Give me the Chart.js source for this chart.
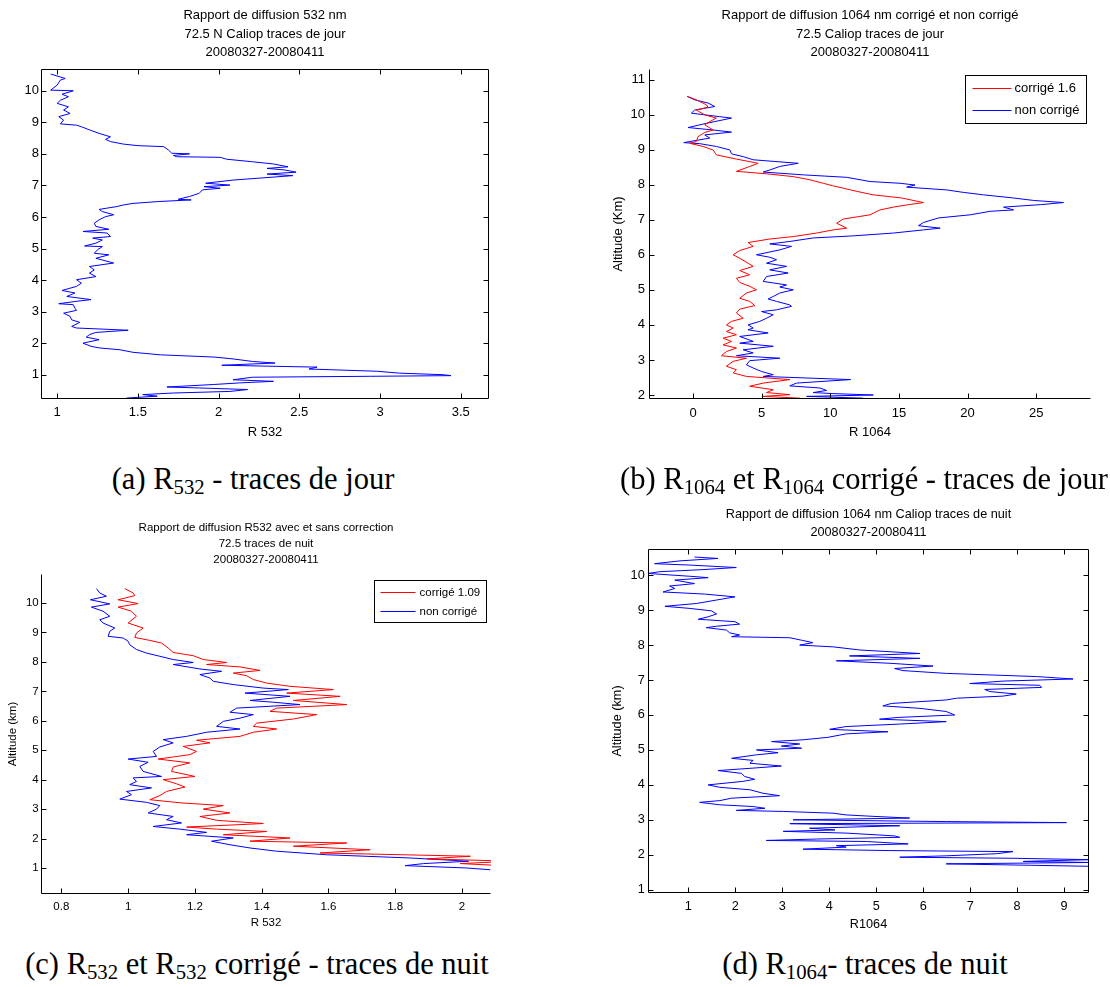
<!DOCTYPE html>
<html lang="fr">
<head>
<meta charset="utf-8">
<title>Rapport de diffusion CALIOP 72.5 N</title>
<script src="https://cdn.jsdelivr.net/npm/chart.js@4.4.1/dist/chart.umd.min.js"></script>
<style>
	body { margin: 0; background: #fff; }
	#page { position: relative; width: 1110px; height: 987px; overflow: hidden; }
	#page canvas { position: absolute; }
	.sous-titre { position: absolute; font-family: "Liberation Serif", "DejaVu Serif", serif; font-size: 30.5px; line-height: 32px; white-space: nowrap; color: #000; transform: translateX(-50%); }
	.sous-titre sub { font-size: 0.68em; line-height: 0; vertical-align: -0.22em; }
</style>
</head>
<body>
<div id="page">
	<canvas id="graphique-a" width="500" height="445" style="left:0;top:0"></canvas>
	<canvas id="graphique-b" width="500" height="445" style="left:600px;top:0"></canvas>
	<canvas id="graphique-c" width="500" height="440" style="left:0;top:505px"></canvas>
	<canvas id="graphique-d" width="500" height="455" style="left:600px;top:490px"></canvas>
	<div class="sous-titre" style="left:253px;top:463px">(a) R<sub>532</sub> - traces de jour</div>
	<div class="sous-titre" style="left:864px;top:463px">(b) R<sub>1064</sub> et R<sub>1064</sub> corrigé - traces de jour</div>
	<div class="sous-titre" style="left:257px;top:948px">(c) R<sub>532</sub> et R<sub>532</sub> corrigé - traces de nuit</div>
	<div class="sous-titre" style="left:865px;top:948px">(d) R<sub>1064</sub>- traces de nuit</div>
</div>
<script>
// (a) R532 de jour
const altJour532 = [
	10.53, 10.39, 10.34, 10.18, 10.02, 10.00, 9.89, 9.81, 9.70, 9.60,
	9.49, 9.39, 9.28, 9.18, 9.07, 8.95, 8.91, 8.86, 8.76, 8.65,
	8.54, 8.46, 8.39, 8.31, 8.26, 8.23, 8.12, 8.02, 8.00, 7.95,
	7.91, 7.89, 7.83, 7.75, 7.68, 7.59, 7.54, 7.49, 7.42, 7.36,
	7.31, 7.23, 7.17, 7.07, 7.01, 6.96, 6.91, 6.86, 6.75, 6.65,
	6.56, 6.54, 6.49, 6.43, 6.38, 6.33, 6.24, 6.17, 6.07, 6.01,
	5.91, 5.80, 5.70, 5.61, 5.54, 5.49, 5.38, 5.33, 5.27, 5.17,
	5.08, 5.06, 4.96, 4.85, 4.80, 4.69, 4.54, 4.43, 4.32, 4.22,
	4.11, 4.01, 3.90, 3.80, 3.67, 3.59, 3.48, 3.38, 3.32, 3.25,
	3.22, 3.11, 3.04, 2.95, 2.85, 2.74, 2.66, 2.53, 2.48, 2.41,
	2.34, 2.27, 2.19, 2.11, 2.00, 1.90, 1.85, 1.79, 1.71, 1.63,
	1.56, 1.50, 1.42, 1.37, 1.30, 1.24, 1.18, 1.11, 1.05, 1.00,
	0.97, 0.95, 0.92, 0.84, 0.79, 0.74, 0.69, 0.61, 0.58, 0.53,
	0.47, 0.42, 0.37, 0.32, 0.26
];
const r532Jour = [
	0.96, 1.05, 1.02, 1.00, 0.96, 1.10, 1.03, 1.07, 1.02, 1.00,
	1.07, 1.04, 1.08, 1.01, 1.04, 1.02, 1.12, 1.15, 1.20, 1.26,
	1.33, 1.30, 1.33, 1.41, 1.50, 1.66, 1.69, 1.71, 1.82, 1.72,
	1.74, 2.01, 2.05, 2.21, 2.34, 2.43, 2.30, 2.41, 2.48, 2.30,
	2.46, 2.25, 2.09, 1.92, 2.07, 1.91, 2.01, 1.90, 1.88, 1.82,
	1.75, 1.83, 1.63, 1.47, 1.41, 1.37, 1.26, 1.28, 1.35, 1.30,
	1.26, 1.23, 1.24, 1.32, 1.16, 1.31, 1.33, 1.22, 1.28, 1.24,
	1.17, 1.28, 1.25, 1.23, 1.32, 1.24, 1.35, 1.20, 1.23, 1.20,
	1.24, 1.12, 1.15, 1.12, 1.03, 1.11, 1.06, 1.21, 1.11, 1.01,
	1.10, 1.11, 1.12, 1.04, 1.08, 1.09, 1.14, 1.09, 1.12, 1.44,
	1.24, 1.20, 1.18, 1.26, 1.16, 1.21, 1.26, 1.39, 1.47, 1.64,
	1.97, 2.09, 2.21, 2.35, 2.02, 2.61, 2.56, 2.98, 3.12, 3.39,
	3.44, 2.94, 2.21, 2.09, 2.34, 2.13, 1.97, 1.68, 1.88, 2.18,
	2.07, 1.72, 1.53, 1.62, 1.43
];

// (b) R1064 de jour, non corrigé et corrigé
const altJour1064 = [
	10.52, 10.42, 10.33, 10.23, 10.13, 10.04, 9.94, 9.90, 9.85, 9.75,
	9.63, 9.56, 9.50, 9.42, 9.33, 9.20, 9.17, 9.09, 8.99, 8.88,
	8.80, 8.71, 8.61, 8.52, 8.42, 8.36, 8.28, 8.21, 8.09, 8.04,
	7.99, 7.93, 7.85, 7.78, 7.71, 7.62, 7.55, 7.49, 7.43, 7.36,
	7.28, 7.24, 7.14, 7.05, 6.92, 6.83, 6.76, 6.71, 6.62, 6.54,
	6.48, 6.38, 6.31, 6.24, 6.14, 6.00, 5.93, 5.86, 5.76, 5.67,
	5.57, 5.48, 5.38, 5.24, 5.14, 5.08, 5.00, 4.91, 4.81, 4.74,
	4.67, 4.57, 4.53, 4.43, 4.38, 4.29, 4.19, 4.10, 4.00, 3.91,
	3.86, 3.77, 3.67, 3.53, 3.48, 3.39, 3.29, 3.20, 3.12, 3.05,
	2.98, 2.86, 2.77, 2.67, 2.58, 2.53, 2.44, 2.34, 2.26, 2.20,
	2.13, 2.07, 2.04, 2.00, 1.96, 1.91
];
const r1064Jour = [
	-0.44, 0.12, 1.09, 1.58, 0.12, -0.12, 1.95, 2.80, 2.19, 0.97,
	-0.36, 1.46, 2.80, 0.85, 1.22, -0.68, 0.49, 1.70, 2.68, 2.80,
	3.65, 4.38, 7.66, 6.32, 5.59, 5.11, 8.03, 11.19, 12.89, 15.08,
	16.17, 15.56, 18.48, 19.70, 21.16, 23.35, 24.81, 26.99, 25.29, 22.62,
	23.35, 21.64, 20.19, 17.87, 16.78, 16.42, 18.00, 16.78, 14.59, 11.67,
	8.75, 7.05, 5.59, 7.17, 6.32, 4.62, 5.59, 6.08, 5.35, 6.81,
	5.59, 6.93, 5.35, 5.11, 6.81, 6.32, 7.30, 6.32, 5.84, 5.47,
	6.08, 7.05, 7.17, 6.08, 4.99, 5.84, 5.35, 4.86, 4.01, 4.38,
	4.01, 5.47, 3.40, 4.38, 3.40, 5.84, 3.65, 4.38, 3.16, 6.32,
	4.13, 3.89, 4.38, 4.99, 5.84, 5.11, 11.48, 7.54, 7.05, 9.24,
	9.73, 8.75, 10.21, 13.13, 8.27, 12.40
];
const altJour1064Corr = [
	10.52, 10.42, 10.28, 10.21, 10.13, 9.99, 9.90, 9.80, 9.71, 9.56,
	9.49, 9.37, 9.23, 9.18, 9.09, 8.99, 8.85, 8.73, 8.61, 8.52,
	8.38, 8.31, 8.23, 8.14, 8.04, 7.97, 7.90, 7.81, 7.71, 7.62,
	7.49, 7.43, 7.36, 7.28, 7.14, 7.02, 6.90, 6.76, 6.71, 6.62,
	6.52, 6.45, 6.35, 6.24, 6.12, 6.00, 5.90, 5.76, 5.67, 5.55,
	5.43, 5.33, 5.21, 5.10, 5.00, 4.91, 4.76, 4.67, 4.55, 4.45,
	4.34, 4.19, 4.10, 4.00, 3.91, 3.81, 3.72, 3.62, 3.53, 3.43,
	3.34, 3.24, 3.12, 3.05, 2.96, 2.82, 2.72, 2.63, 2.53, 2.44,
	2.34, 2.25, 2.15, 2.07, 2.01, 1.96, 1.91
];
const r1064JourCorr = [
	-0.44, 0.24, 0.97, 1.09, 0.24, 0.85, 1.70, 1.22, 0.85, 1.46,
	0.85, 0.36, 0.24, -0.24, 0.73, 1.46, 1.70, 3.16, 4.74, 4.13,
	3.16, 5.35, 7.30, 8.51, 9.48, 10.17, 10.94, 11.92, 13.13, 15.20,
	16.78, 15.69, 14.59, 13.62, 12.89, 10.94, 10.46, 11.19, 10.21, 9.00,
	7.30, 5.59, 4.01, 4.38, 3.40, 2.92, 3.40, 4.01, 4.38, 3.40,
	4.13, 3.16, 3.40, 4.13, 4.62, 3.89, 3.40, 4.13, 4.50, 3.40,
	3.16, 3.65, 2.80, 2.43, 2.92, 2.43, 3.16, 2.19, 2.80, 2.19,
	3.16, 2.43, 2.07, 3.89, 2.92, 2.43, 3.16, 2.92, 3.89, 7.05,
	5.11, 4.13, 5.84, 5.35, 7.05, 5.11, 7.78
];

// (c) R532 de nuit, non corrigé et corrigé
const altNuit532 = [
	10.49, 10.34, 10.23, 10.11, 9.97, 9.86, 9.72, 9.55, 9.43, 9.32,
	9.15, 9.04, 8.87, 8.81, 8.70, 8.58, 8.42, 8.30, 8.19, 8.08,
	7.98, 7.91, 7.76, 7.68, 7.57, 7.45, 7.34, 7.23, 7.11, 7.06,
	6.94, 6.83, 6.69, 6.63, 6.55, 6.43, 6.29, 6.21, 6.09, 5.98,
	5.81, 5.72, 5.61, 5.47, 5.36, 5.25, 5.11, 4.96, 4.79, 4.70,
	4.59, 4.45, 4.28, 4.11, 4.06, 3.94, 3.83, 3.72, 3.60, 3.49,
	3.34, 3.23, 3.12, 3.00, 2.87, 2.75, 2.64, 2.53, 2.41, 2.32,
	2.21, 2.13, 2.02, 1.91, 1.79, 1.68, 1.57, 1.45, 1.34, 1.23,
	1.15, 1.08, 1.00, 0.94
];
const r532Nuit = [
	0.905, 0.915, 0.935, 0.887, 0.945, 0.890, 0.925, 0.945, 0.915, 0.925,
	0.960, 0.945, 0.940, 0.985, 1.000, 1.005, 1.025, 1.055, 1.095, 1.135,
	1.195, 1.135, 1.215, 1.280, 1.215, 1.245, 1.255, 1.315, 1.405, 1.480,
	1.350, 1.485, 1.365, 1.435, 1.515, 1.325, 1.305, 1.375, 1.335, 1.285,
	1.265, 1.335, 1.235, 1.175, 1.105, 1.135, 1.095, 1.075, 1.085, 1.000,
	1.060, 1.035, 1.045, 1.100, 1.015, 1.025, 1.005, 1.070, 0.995, 1.010,
	0.975, 1.055, 1.095, 1.085, 1.060, 1.135, 1.115, 1.160, 1.075, 1.155,
	1.235, 1.175, 1.315, 1.250, 1.305, 1.365, 1.445, 1.595, 1.845, 2.020,
	1.885, 1.830, 2.015, 2.085
];
const altNuit532Corr = [
	10.49, 10.34, 10.25, 10.11, 9.98, 9.86, 9.72, 9.55, 9.32, 9.15,
	8.98, 8.83, 8.73, 8.64, 8.47, 8.32, 8.21, 8.08, 7.98, 7.91,
	7.83, 7.71, 7.62, 7.53, 7.40, 7.28, 7.17, 7.06, 6.94, 6.83,
	6.69, 6.55, 6.43, 6.32, 6.21, 6.06, 5.92, 5.81, 5.72, 5.61,
	5.47, 5.34, 5.25, 5.13, 4.96, 4.85, 4.70, 4.57, 4.43, 4.28,
	4.11, 4.00, 3.86, 3.75, 3.60, 3.46, 3.32, 3.21, 3.12, 3.00,
	2.87, 2.75, 2.62, 2.51, 2.39, 2.32, 2.24, 2.13, 2.02, 1.91,
	1.85, 1.74, 1.62, 1.51, 1.40, 1.31, 1.23, 1.15, 1.08
];
const r532NuitCorr = [
	0.990, 1.015, 1.020, 0.970, 1.030, 0.970, 1.010, 1.025, 1.000, 1.045,
	1.025, 1.020, 1.065, 1.100, 1.120, 1.135, 1.195, 1.225, 1.295, 1.235,
	1.335, 1.395, 1.315, 1.355, 1.375, 1.415, 1.485, 1.615, 1.475, 1.635,
	1.495, 1.655, 1.445, 1.425, 1.565, 1.495, 1.385, 1.375, 1.445, 1.375,
	1.335, 1.205, 1.245, 1.165, 1.205, 1.185, 1.090, 1.185, 1.135, 1.130,
	1.200, 1.105, 1.145, 1.170, 1.115, 1.095, 1.065, 1.160, 1.285, 1.225,
	1.305, 1.215, 1.265, 1.405, 1.175, 1.265, 1.415, 1.285, 1.485, 1.365,
	1.655, 1.495, 1.725, 1.575, 2.025, 1.895, 2.150, 1.995, 2.120
];

// (d) R1064 de nuit
const altNuit1064 = [
	10.52, 10.48, 10.41, 10.33, 10.29, 10.22, 10.16, 10.10, 10.05, 9.97,
	9.93, 9.86, 9.76, 9.69, 9.62, 9.52, 9.46, 9.38, 9.29, 9.19,
	9.11, 9.05, 8.98, 8.89, 8.81, 8.74, 8.67, 8.60, 8.54, 8.50,
	8.43, 8.35, 8.29, 8.24, 8.21, 8.14, 8.07, 8.00, 7.95, 7.86,
	7.76, 7.69, 7.62, 7.55, 7.48, 7.40, 7.33, 7.27, 7.19, 7.10,
	7.03, 6.97, 6.90, 6.85, 6.79, 6.73, 6.67, 6.60, 6.54, 6.48,
	6.43, 6.33, 6.26, 6.19, 6.10, 6.00, 5.93, 5.88, 5.81, 5.74,
	5.67, 5.59, 5.52, 5.46, 5.36, 5.29, 5.24, 5.17, 5.11, 5.05,
	5.00, 4.92, 4.86, 4.76, 4.70, 4.62, 4.54, 4.48, 4.41, 4.33,
	4.24, 4.16, 4.10, 4.00, 3.93, 3.86, 3.76, 3.69, 3.62, 3.55,
	3.50, 3.43, 3.38, 3.33, 3.27, 3.24, 3.19, 3.14, 3.10, 3.05,
	3.00, 2.95, 2.92, 2.89, 2.83, 2.76, 2.71, 2.67, 2.62, 2.54,
	2.50, 2.45, 2.41, 2.38, 2.31, 2.26, 2.22, 2.16, 2.12, 2.09,
	2.03, 1.97, 1.93, 1.90, 1.86, 1.81, 1.78, 1.74, 1.70, 1.67
];
const r1064Nuit = [
	1.13, 1.63, 0.82, 0.28, 1.03, 2.02, 1.31, 0.39, 0.14, 1.03,
	1.42, 0.71, 1.13, 0.60, 0.71, 0.46, 1.35, 1.99, 1.60, 1.17,
	0.50, 1.03, 1.49, 1.60, 1.42, 1.21, 1.99, 2.09, 1.60, 1.38,
	1.81, 1.88, 2.09, 1.92, 3.16, 3.41, 3.65, 3.37, 4.08, 4.65,
	5.93, 4.43, 5.93, 4.15, 5.29, 6.21, 5.39, 5.57, 6.49, 8.41,
	9.19, 7.70, 6.99, 8.48, 8.52, 7.31, 7.42, 7.98, 7.70, 6.71,
	6.49, 5.32, 5.14, 5.93, 6.49, 6.67, 5.46, 5.07, 6.49, 5.50,
	4.36, 4.01, 5.25, 4.36, 3.97, 3.44, 2.77, 3.37, 2.98, 3.41,
	2.45, 2.91, 2.45, 1.92, 2.38, 2.31, 2.98, 2.38, 1.63, 2.13,
	2.20, 2.41, 2.16, 1.42, 1.67, 2.31, 2.59, 2.94, 1.92, 1.67,
	1.24, 1.67, 2.38, 2.63, 2.02, 3.02, 4.08, 4.36, 4.93, 5.71,
	3.23, 6.49, 9.05, 3.16, 5.50, 3.58, 4.12, 3.02, 4.36, 5.39,
	5.50, 3.73, 2.66, 4.79, 5.68, 4.15, 4.36, 3.44, 5.29, 7.91,
	7.56, 6.49, 5.50, 7.91, 9.55, 8.13, 9.55, 6.49, 8.27, 9.55
];

// Graduations de chaque graphique
const ticksXa = [1, 1.5, 2, 2.5, 3, 3.5];
const ticksXb = [0, 5, 10, 15, 20, 25];
const ticksXc = [0.8, 1, 1.2, 1.4, 1.6, 1.8, 2];
const ticksXd = [1, 2, 3, 4, 5, 6, 7, 8, 9];
const ticksYa = [1, 2, 3, 4, 5, 6, 7, 8, 9, 10];
const ticksYb = [2, 3, 4, 5, 6, 7, 8, 9, 10, 11];

const ROUGE = "#ff0000";
const BLEU = "#0000ff";
Chart.defaults.font.family = "'Liberation Sans', Arial, sans-serif";
Chart.defaults.color = "#000";

function points(alts, valeurs) {
	return valeurs.map((v, i) => ({ x: v, y: alts[i] }));
}

// Cadre façon Matlab : axes, graduations vers l'intérieur et légende dans le graphique
const cadre = {
	id: "cadre",
	afterDatasetsDraw(chart, args, opts) {
		const ctx = chart.ctx;
		const z = chart.chartArea;
		const g = Math.round(z.left) + 0.5;
		const d = Math.round(z.right) - 0.5;
		const h = Math.round(z.top) + 0.5;
		const b = Math.round(z.bottom) - 0.5;
		const lg = 5;
		ctx.save();
		ctx.strokeStyle = "#000";
		ctx.lineWidth = 1;
		ctx.beginPath();
		ctx.moveTo(g, h);
		ctx.lineTo(g, b);
		ctx.lineTo(d, b);
		if (opts.boite) {
			ctx.lineTo(d, h);
			ctx.lineTo(g, h);
		}
		for (const t of chart.scales.x.ticks) {
			const px = Math.round(chart.scales.x.getPixelForValue(t.value)) + 0.5;
			ctx.moveTo(px, b);
			ctx.lineTo(px, b - lg);
			if (opts.boite) {
				ctx.moveTo(px, h);
				ctx.lineTo(px, h + lg);
			}
		}
		for (const t of chart.scales.y.ticks) {
			const py = Math.round(chart.scales.y.getPixelForValue(t.value)) + 0.5;
			ctx.moveTo(g, py);
			ctx.lineTo(g + lg, py);
			if (opts.boite) {
				ctx.moveTo(d, py);
				ctx.lineTo(d - lg, py);
			}
		}
		ctx.stroke();

		const L = opts.legende;
		if (L) {
			const x0 = Math.round(z.right - L.droite - L.largeur) + 0.5;
			const y0 = Math.round(z.top + L.haut) + 0.5;
			ctx.fillStyle = "#fff";
			ctx.fillRect(x0, y0, L.largeur, L.hauteur);
			ctx.strokeStyle = "#000";
			ctx.strokeRect(x0, y0, L.largeur, L.hauteur);
			ctx.font = L.taille + "px 'Liberation Sans', Arial, sans-serif";
			ctx.textBaseline = "middle";
			ctx.textAlign = "left";
			chart.data.datasets.forEach((ds, i) => {
				const y = Math.round(y0 + L.lignes[i]) + 0.5;
				ctx.strokeStyle = ds.borderColor;
				ctx.beginPath();
				ctx.moveTo(x0 + L.trait[0], y);
				ctx.lineTo(x0 + L.trait[1], y);
				ctx.stroke();
				ctx.fillStyle = "#000";
				ctx.fillText(ds.label, x0 + L.texte, y);
			});
		}
		ctx.restore();
	}
};

function faireGraphique(id, p) {
	const police = { size: p.police };
	const config = {
		type: "scatter",
		data: {
			datasets: p.series.map(s => ({
				label: s.label,
				data: points(s.alt, s.val),
				borderColor: s.couleur,
				backgroundColor: s.couleur,
				borderWidth: 1,
				showLine: true,
				pointRadius: 0,
				tension: 0
			}))
		},
		options: {
			responsive: false,
			animation: false,
			events: [],
			layout: { padding: { left: 0, right: p.marge, top: 0, bottom: 0 } },
			plugins: {
				legend: { display: false },
				tooltip: { enabled: false },
				title: {
					display: true,
					fullSize: false,
					text: p.titre,
					font: { size: p.police, weight: "normal", lineHeight: p.interligne + "px" },
					padding: { top: p.titreHaut, bottom: p.titreBas }
				},
				cadre: { boite: p.boite, legende: p.legende }
			},
			scales: {
				x: {
					type: "linear",
					min: p.xMin,
					max: p.xMax,
					grid: { display: false, drawTicks: false },
					border: { display: false },
					ticks: { font: police, padding: p.padX, autoSkip: false, maxRotation: 0, callback: v => String(v) },
					title: { display: true, text: p.titreX, font: police, padding: { top: 0, bottom: p.titreXBas } },
					afterBuildTicks: e => { e.ticks = p.ticksX.map(v => ({ value: v })); },
					afterFit: e => { e.height = p.hautX; }
				},
				y: {
					type: "linear",
					min: p.yMin,
					max: p.yMax,
					grid: { display: false, drawTicks: false },
					border: { display: false },
					ticks: { font: police, padding: p.padY, autoSkip: false, callback: v => String(v) },
					title: { display: !!p.titreY, text: p.titreY || "", font: police, padding: { top: p.titreYHaut || 0, bottom: 0 } },
					afterBuildTicks: e => { e.ticks = p.ticksY.map(v => ({ value: v })); },
					afterFit: e => { e.width = p.largeY; }
				}
			}
		},
		plugins: [cadre]
	};
	return new Chart(document.querySelector(id), config);
}

faireGraphique("#graphique-a", {
	titre: ["Rapport de diffusion 532 nm", "72.5 N Caliop traces de jour", "20080327-20080411"],
	police: 13, interligne: 18.5, titreHaut: 6.5, titreBas: 7,
	marge: 11, largeY: 41, hautX: 46, padX: 5.9, padY: 2, titreXBas: 5.2,
	xMin: 0.9, xMax: 3.675, yMin: 0.23, yMax: 10.69,
	ticksX: ticksXa, ticksY: ticksYa,
	titreX: "R 532", boite: true,
	series: [{ label: "R 532", alt: altJour532, val: r532Jour, couleur: BLEU }]
});

faireGraphique("#graphique-b", {
	titre: ["Rapport de diffusion 1064 nm corrigé et non corrigé", "72.5 Caliop traces de jour", "20080327-20080411"],
	police: 13, interligne: 18.5, titreHaut: 6.5, titreBas: 7,
	marge: 9, largeY: 49, hautX: 46, padX: 6.2, padY: 4, titreXBas: 5.2,
	xMin: -3.21, xMax: 28.99, yMin: 1.886, yMax: 11.3,
	ticksX: ticksXb, ticksY: ticksYb,
	titreX: "R 1064", titreY: "Altitude (Km)", titreYHaut: 10.5, boite: false,
	legende: { droite: 5, haut: 6, largeur: 121, hauteur: 48, trait: [7, 46], texte: 49, lignes: [12.5, 34.5], taille: 13 },
	series: [
		{ label: "corrigé 1.6", alt: altJour1064Corr, val: r1064JourCorr, couleur: ROUGE },
		{ label: "non corrigé", alt: altJour1064, val: r1064Jour, couleur: BLEU }
	]
});

faireGraphique("#graphique-c", {
	titre: ["Rapport de diffusion R532 avec et sans correction", "72.5 traces de nuit", "20080327-20080411"],
	police: 11.5, interligne: 16, titreHaut: 15, titreBas: 6,
	marge: 9, largeY: 41, hautX: 51, padX: 5.5, padY: 2.3, titreXBas: 14.8,
	xMin: 0.739, xMax: 2.087, yMin: 0.117, yMax: 10.985,
	ticksX: ticksXc, ticksY: ticksYa,
	titreX: "R 532", titreY: "Altitude (km)", titreYHaut: 6.1, boite: false,
	legende: { droite: 5, haut: 6, largeur: 112, hauteur: 42, trait: [6, 41], texte: 45, lignes: [11, 30], taille: 11.5 },
	series: [
		{ label: "corrigé 1.09", alt: altNuit532Corr, val: r532NuitCorr, couleur: ROUGE },
		{ label: "non corrigé", alt: altNuit532, val: r532Nuit, couleur: BLEU }
	]
});

faireGraphique("#graphique-d", {
	titre: ["Rapport de diffusion 1064 nm Caliop traces de nuit", "20080327-20080411"],
	police: 12.7, interligne: 18, titreHaut: 15, titreBas: 8,
	marge: 11, largeY: 48, hautX: 52, padX: 5.8, padY: 3.3, titreXBas: 12.4,
	xMin: 0.14, xMax: 9.53, yMin: 0.906, yMax: 10.75,
	ticksX: ticksXd, ticksY: ticksYa,
	titreX: "R1064", titreY: "Altitude (km)", titreYHaut: 10.1, boite: true,
	series: [{ label: "R1064", alt: altNuit1064, val: r1064Nuit, couleur: BLEU }]
});
</script>
</body>
</html>
